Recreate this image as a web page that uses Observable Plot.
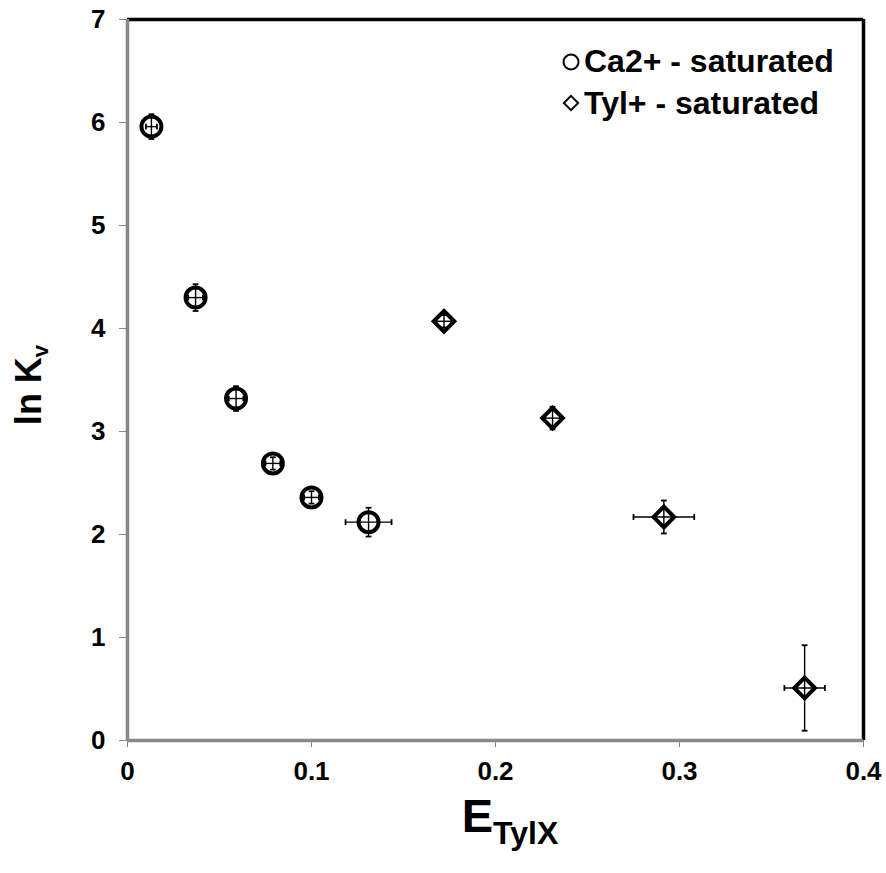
<!DOCTYPE html>
<html>
<head>
<meta charset="utf-8">
<script src="https://cdn.jsdelivr.net/npm/d3@7"></script>
<script src="https://cdn.jsdelivr.net/npm/@observablehq/plot@0.6"></script>
<style>
  body { margin: 0; background: #fff; }
  svg { font-family: "Liberation Sans", Arial, sans-serif; }
</style>
</head>
<body>
<div id="chart"></div>
<script>
// Ca2+ - saturated series
const caX  = [0.013, 0.037, 0.059, 0.079, 0.100, 0.131];
const caY  = [5.96, 4.30, 3.32, 2.69, 2.36, 2.12];
const caEx = [0.003, 0.004, 0.004, 0.004, 0.004, 0.0125];
const caEy = [0.12, 0.13, 0.12, 0.06, 0.06, 0.14];
// Tyl+ - saturated series
const tyX  = [0.172, 0.231, 0.2915, 0.368];
const tyY  = [4.07, 3.13, 2.17, 0.51];
const tyEx = [0.004, 0.004, 0.0165, 0.011];
const tyEy = [0.06, 0.11, 0.16, 0.415];

const xTicks = [0, 0.1, 0.2, 0.3, 0.4];
const yTicks = [0, 1, 2, 3, 4, 5, 6, 7];
const seriesNames = ["Ca2+ - saturated", "Tyl+ - saturated"];

const ca = caX.map((x, i) => ({x, y: caY[i], ex: caEx[i], ey: caEy[i]}));
const ty = tyX.map((x, i) => ({x, y: tyY[i], ex: tyEx[i], ey: tyEy[i]}));
const all = ca.concat(ty);

const capH = {draw(ctx, size) { const r = Math.sqrt(size / Math.PI); ctx.moveTo(-r, 0); ctx.lineTo(r, 0); }};
const capV = {draw(ctx, size) { const r = Math.sqrt(size / Math.PI); ctx.moveTo(0, -r); ctx.lineTo(0, r); }};

const plot = Plot.plot({
  width: 886,
  height: 873,
  marginLeft: 127,
  marginRight: 23,
  marginTop: 19,
  marginBottom: 133,
  x: {domain: [0, 0.4]},
  y: {domain: [0, 7]},
  style: {fontFamily: "Liberation Sans, Arial, sans-serif", background: "#fff"},
  marks: [
    Plot.axisX({ticks: xTicks, tickFormat: d => String(d), tickSize: 7, tickPadding: 14,
      stroke: "#888", fill: "#000", fontSize: 26, fontWeight: "bold", label: null}),
    Plot.axisY({ticks: yTicks, tickFormat: d => String(d), tickSize: 8, tickPadding: 14,
      stroke: "#888", fill: "#000", fontSize: 26, fontWeight: "bold", label: null}),
    // frame
    Plot.ruleY([7], {stroke: "#000", strokeWidth: 3.5}),
    Plot.ruleX([0.4], {stroke: "#000", strokeWidth: 3.5}),
    Plot.ruleX([0], {stroke: "#888", strokeWidth: 3.5}),
    Plot.ruleY([0], {stroke: "#888", strokeWidth: 3.5}),
    // error bars
    Plot.link(all, {x1: d => d.x, x2: d => d.x, y1: d => d.y - d.ey, y2: d => d.y + d.ey, stroke: "#000", strokeWidth: 1.4}),
    Plot.link(all, {x1: d => d.x - d.ex, x2: d => d.x + d.ex, y1: "y", y2: "y", stroke: "#000", strokeWidth: 1.4}),
    Plot.dot(all, {x: "x", y: d => d.y - d.ey, symbol: capH, r: 2.9, stroke: "#000", strokeWidth: 1.8}),
    Plot.dot(all, {x: "x", y: d => d.y + d.ey, symbol: capH, r: 2.9, stroke: "#000", strokeWidth: 1.8}),
    Plot.dot(all, {x: d => d.x - d.ex, y: "y", symbol: capV, r: 2.9, stroke: "#000", strokeWidth: 1.8}),
    Plot.dot(all, {x: d => d.x + d.ex, y: "y", symbol: capV, r: 2.9, stroke: "#000", strokeWidth: 1.8}),
    // markers
    Plot.dot(ca, {x: "x", y: "y", symbol: "circle", r: 10, stroke: "#000", strokeWidth: 4, fill: "none"}),
    Plot.dot(ty, {x: "x", y: "y", symbol: "diamond2", r: 9.3, stroke: "#000", strokeWidth: 4, fill: "none"})
  ]
});

const svg = d3.select(plot);

// legend
const leg = svg.append("g").attr("text-anchor", "start");
leg.append("circle").attr("cx", 571).attr("cy", 62).attr("r", 7.5).attr("fill", "none").attr("stroke", "#000").attr("stroke-width", 2);
leg.append("path").attr("d", d3.symbol(d3.symbolDiamond2, 130)()).attr("transform", "translate(571,103)")
  .attr("fill", "none").attr("stroke", "#000").attr("stroke-width", 2);
leg.append("text").attr("x", 584).attr("y", 72).attr("font-size", 32).attr("font-weight", "bold").text(seriesNames[0]);
leg.append("text").attr("x", 584).attr("y", 114).attr("font-size", 32).attr("font-weight", "bold").text(seriesNames[1]);

// x title
const xt = svg.append("text").attr("x", 510).attr("y", 832).attr("text-anchor", "middle")
  .attr("font-weight", "bold").attr("font-size", 47);
xt.append("tspan").text("E");
xt.append("tspan").attr("font-size", 32).attr("dy", 12).text("TylX");

// y title
const yt = svg.append("text").attr("transform", "translate(41,385) rotate(-90)").attr("text-anchor", "middle")
  .attr("font-weight", "bold").attr("font-size", 36);
yt.append("tspan").text("ln K");
yt.append("tspan").attr("font-size", 22).attr("dy", 7).text("v");

document.getElementById("chart").appendChild(plot);
</script>
</body>
</html>
